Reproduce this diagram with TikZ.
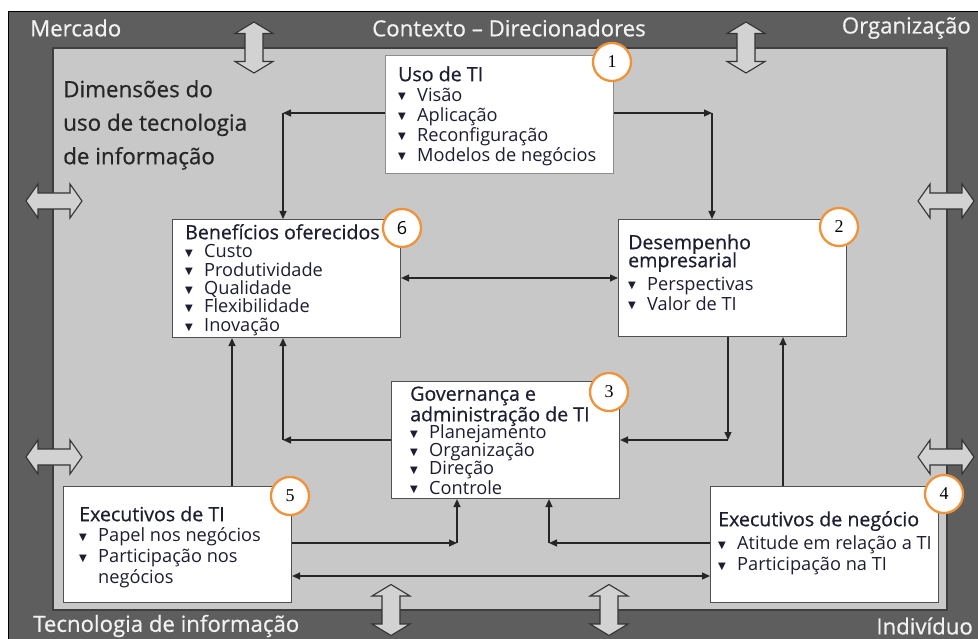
\documentclass[tikz,border=0pt]{standalone}
\usepackage{fontspec}
\setmainfont{Open Sans}
\newfontfamily\dejavu{DejaVu Sans}
\newfontfamily\numserif{Liberation Serif}
\newfontfamily\headfont[FakeBold=0.6]{Open Sans}
\usetikzlibrary{arrows.meta}
\definecolor{bandclr}{HTML}{5E5E5E}
\definecolor{innerclr}{HTML}{C8C8C8}
\definecolor{innerline}{HTML}{3E3E3E}
\definecolor{darrfill}{HTML}{D2D2D2}
\definecolor{darrline}{HTML}{333333}
\definecolor{ringclr}{HTML}{F0923A}
\definecolor{boxtxt}{HTML}{1E1E32}
\definecolor{boxline}{HTML}{505050}
\definecolor{boxlinelight}{HTML}{8C8C8C}
\definecolor{bandtxt}{HTML}{F2F2F2}
\definecolor{lineclr}{HTML}{262626}
\newcommand\bt{\makebox[19pt][l]{\raisebox{1.2pt}{\dejavu\fontsize{10}{10}\selectfont ▼}}}
\newcommand\fl{\rule{0pt}{15pt}}
\newcommand\hd[1]{{\headfont\fontsize{19.6}{20}\selectfont #1}}
\tikzset{
  box/.style={draw=boxline, line width=1.1pt, fill=white, anchor=north west, inner sep=0pt},
  txt/.style={anchor=north west, inner sep=0pt, align=left, text=boxtxt},
  circ/.style={circle, draw=ringclr, line width=2.3pt, fill=white, minimum size=38pt, inner sep=0pt, font=\numserif\fontsize{18}{18}\selectfont},
  bandlbl/.style={inner sep=0pt, text=bandtxt, font=\headfont\fontsize{22.2}{22}\selectfont},
  arr/.style={draw=lineclr, line width=1.2pt, -{Triangle[length=8pt,width=7pt]}},
  darr/.style={draw=lineclr, line width=1.2pt, {Triangle[length=8pt,width=7pt]}-{Triangle[length=8pt,width=7pt]}},
  vdarr/.pic={\draw[line width=1.1pt, draw=darrline, fill=darrfill, line join=miter]
    (0,-25.5) -- (19,-14) -- (9,-14) -- (9,14) -- (19,14) -- (0,25.5) -- (-19,14) -- (-9,14) -- (-9,-14) -- (-19,-14) -- cycle;},
  hdarr/.pic={\draw[line width=1.1pt, draw=darrline, fill=darrfill, line join=miter]
    (-28,0) -- (-16,-17) -- (-16,-8) -- (16,-8) -- (16,-17) -- (28,0) -- (16,17) -- (16,8) -- (-16,8) -- (-16,17) -- cycle;}
}
\begin{document}
\begin{tikzpicture}[x=1pt,y=-1pt]
\useasboundingbox (0,0) rectangle (978,639);
\fill[white] (0,0) rectangle (978,639);
% outer band
\fill[bandclr] (8,12) rectangle (978,639);
\draw[black, line width=1pt] (8,639) -- (8,12) -- (978,12);
% inner panel
\draw[innerline, line width=1.3pt, fill=innerclr] (53,48) rectangle (947,610);
% band double arrows
\pic at (254,47.5) {vdarr};
\pic at (746,47.5) {vdarr};
\pic at (391,610) {vdarr};
\pic at (609,610) {vdarr};
\pic at (54,201) {hdarr};
\pic at (54,457) {hdarr};
\pic at (946,201) {hdarr};
\pic at (946,457) {hdarr};
% band labels
\node[bandlbl, anchor=west] (lmerc) at (30,28) {Mercado};
\node[bandlbl] (lctx) at (509,28) {Contexto – Direcionadores};
\node[bandlbl, anchor=east] (lorg) at (971,28) {Organização};
\node[bandlbl, anchor=west] (ltec) at (33,626) {Tecnologia de informação};
\node[bandlbl, anchor=east] (lind) at (973,626) {Indivíduo};
% title
\node[anchor=north west, inner sep=0pt, align=left, text=black!85, font=\headfont\fontsize{22.4}{33.5}\selectfont] (title) at (63,79)
  {\rule{0pt}{18pt}Dimensões do\\uso de tecnologia\\de informação};
% boxes
\node[box, draw=boxlinelight, minimum width=228pt, minimum height=118pt] (uso) at (385,55) {};
\node[box, minimum width=228pt, minimum height=118pt] (ben) at (172,219) {};
\node[box, minimum width=228pt, minimum height=117pt] (des) at (618,219) {};
\node[box, minimum width=228pt, minimum height=117pt] (gov) at (391,381) {};
\node[box, minimum width=228pt, minimum height=116pt] (exti) at (63,486) {};
\node[box, minimum width=228pt, minimum height=116pt] (exneg) at (710,486) {};
% connectors
\coordinate (c1) at (283,113);
\coordinate (c2) at (712,113);
\coordinate (c5) at (283,440);
\coordinate (c6) at (728,440);
\coordinate (c8) at (457,543);
\coordinate (c9) at (549,543);
\coordinate (h3) at (0,278);
\coordinate (v4) at (232,0);
\coordinate (v7) at (783,0);
\coordinate (h10) at (0,576);
\draw[arr] (uso.west |- c1) -- (c1);
\draw[arr] (c1) -- (c1 |- ben.north);
\draw[arr] (uso.east |- c2) -- (c2);
\draw[arr] (c2) -- (c2 |- des.north);
\draw[darr] (ben.east |- h3) -- (des.west |- h3);
\draw[arr] (v4 |- exti.north) -- (v4 |- ben.south);
\draw[arr] (gov.west |- c5) -- (c5);
\draw[arr] (c5) -- (c5 |- ben.south);
\draw[arr] (c6 |- des.south) -- (c6);
\draw[arr] (c6) -- (gov.east |- c6);
\draw[arr] (v7 |- exneg.north) -- (v7 |- des.south);
\draw[arr] (exti.east |- c8) -- (c8);
\draw[arr] (c8) -- (c8 |- gov.south);
\draw[arr] (exneg.west |- c9) -- (c9);
\draw[arr] (c9) -- (c9 |- gov.south);
\draw[darr] (exti.east |- h10) -- (exneg.west |- h10);
% box texts
\node[txt, font=\fontsize{18.2}{20}\selectfont] (usot) at (398,66)
  {\fl\hd{Uso de TI}\\\bt Visão\\\bt Aplicação\\\bt Reconfiguração\\\bt Modelos de negócios};
\node[txt, font=\fontsize{18.2}{18.4}\selectfont] (bent) at (185,224)
  {\fl\hd{Benefícios oferecidos}\\\bt Custo\\\bt Produtividade\\\bt Qualidade\\\bt Flexibilidade\\\bt Inovação};
\node[txt, font=\fontsize{18.2}{20}\selectfont] (dest) at (628,234)
  {\fl\hd{Desempenho}\\[-2pt]\hd{empresarial}\\[3pt]\bt Perspectivas\\\bt Valor de TI};
\node[txt, font=\fontsize{18.2}{18}\selectfont] (govt) at (410,385.5)
  {\fl\hd{Governança e}\\\hd{administração de TI}\\[-2pt]\bt Planejamento\\\bt Organização\\\bt Direção\\\bt Controle};
\node[txt, font=\fontsize{18.2}{20.7}\selectfont] (extit) at (79,506)
  {\fl\hd{Executivos de TI}\\\bt Papel nos negócios\\\bt Participação nos\\\hspace*{19pt}negócios};
\node[txt, font=\fontsize{18.2}{21}\selectfont] (exnegt) at (718,511)
  {\fl\hd{Executivos de negócio}\\[2pt]\bt Atitude em relação a TI\\\bt Participação na TI};
% number circles
\node[circ] (n1) at (612,62) {1};
\node[circ] (n2) at (839,227) {2};
\node[circ] (n3) at (609,392) {3};
\node[circ] (n4) at (944,494) {4};
\node[circ] (n5) at (290,496) {5};
\node[circ, font=\fontsize{18}{18}\selectfont] (n6) at (402,228) {6};
\end{tikzpicture}
\end{document}
